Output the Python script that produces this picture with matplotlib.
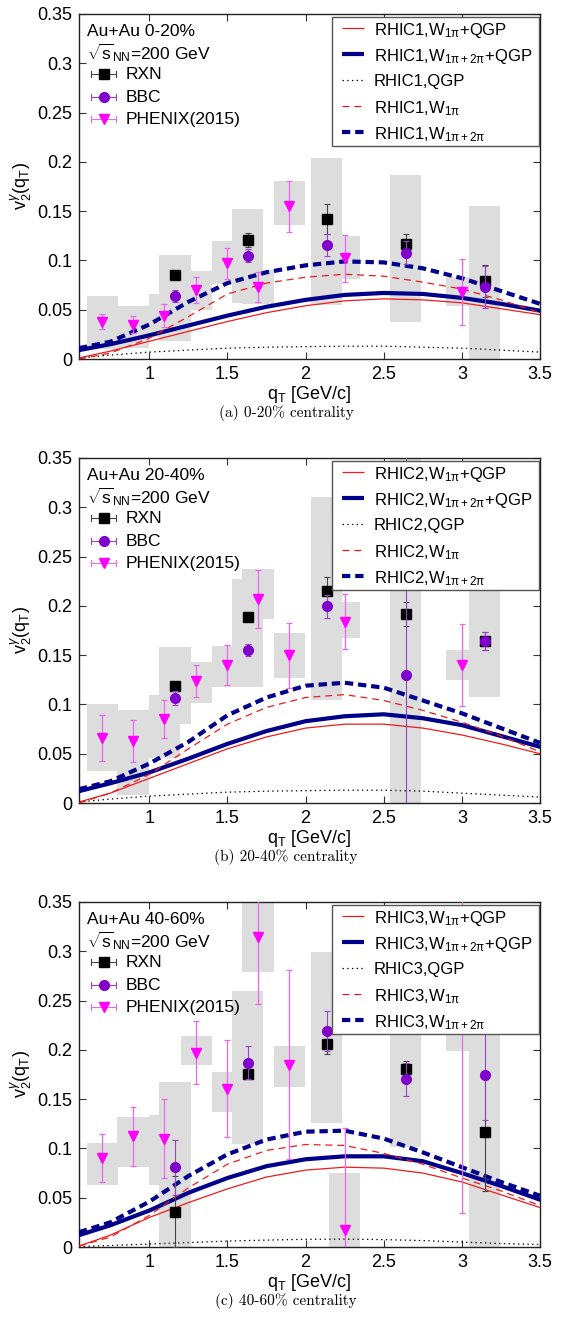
import numpy as np
import matplotlib
matplotlib.use('Agg')
import matplotlib.pyplot as plt
from matplotlib.patches import Rectangle

plt.rcParams['font.family'] = ['Liberation Sans', 'DejaVu Sans']
plt.rcParams['mathtext.fontset'] = 'custom'
plt.rcParams['mathtext.rm'] = 'Liberation Sans'
plt.rcParams['mathtext.it'] = 'Liberation Sans:italic'
plt.rcParams['mathtext.bf'] = 'Liberation Sans:bold'
plt.rcParams['lines.scale_dashes'] = False

# ---------------- data ----------------
q_curve = [0.55, 0.75, 1.0, 1.25, 1.5, 1.75, 2.0, 2.25, 2.5, 2.75, 3.0, 3.25, 3.5]

# panel (a) 0-20%
a_w1_qgp   = [0.001, 0.008, 0.018, 0.028, 0.038, 0.047, 0.054, 0.059, 0.061, 0.060, 0.057, 0.051, 0.045]
a_w12_qgp  = [0.009, 0.015, 0.024, 0.034, 0.044, 0.053, 0.060, 0.065, 0.067, 0.066, 0.062, 0.056, 0.049]
a_qgp      = [0.001, 0.004, 0.007, 0.009, 0.011, 0.012, 0.0125, 0.013, 0.013, 0.012, 0.011, 0.009, 0.007]
a_w1       = [0.000, 0.006, 0.021, 0.043, 0.066, 0.077, 0.083, 0.086, 0.084, 0.078, 0.071, 0.060, 0.047]
a_w12      = [0.011, 0.0175, 0.035, 0.058, 0.077, 0.088, 0.095, 0.099, 0.098, 0.092, 0.082, 0.069, 0.056]

# panel (b) 20-40%
b_w1_qgp   = [0.001, 0.010, 0.025, 0.040, 0.055, 0.067, 0.076, 0.080, 0.080, 0.076, 0.069, 0.060, 0.050]
b_w12_qgp  = [0.012, 0.020, 0.031, 0.045, 0.060, 0.073, 0.083, 0.088, 0.090, 0.086, 0.079, 0.068, 0.057]
b_qgp      = [0.001, 0.004, 0.007, 0.009, 0.011, 0.012, 0.0125, 0.013, 0.013, 0.012, 0.010, 0.008, 0.006]
b_w1       = [0.000, 0.010, 0.029, 0.055, 0.080, 0.097, 0.107, 0.110, 0.104, 0.094, 0.082, 0.068, 0.052]
b_w12      = [0.014, 0.022, 0.040, 0.062, 0.089, 0.107, 0.119, 0.122, 0.117, 0.104, 0.091, 0.076, 0.061]

# panel (c) 40-60%
c_w1_qgp   = [0.001, 0.012, 0.030, 0.045, 0.059, 0.071, 0.078, 0.081, 0.080, 0.075, 0.066, 0.053, 0.040]
c_w12_qgp  = [0.012, 0.022, 0.037, 0.055, 0.070, 0.082, 0.089, 0.092, 0.092, 0.087, 0.075, 0.062, 0.048]
c_qgp      = [0.0005, 0.0015, 0.003, 0.0045, 0.006, 0.007, 0.0078, 0.008, 0.0075, 0.0065, 0.005, 0.0035, 0.0025]
c_w1       = [0.001, 0.010, 0.032, 0.060, 0.084, 0.098, 0.104, 0.103, 0.095, 0.084, 0.070, 0.057, 0.042]
c_w12      = [0.015, 0.025, 0.046, 0.072, 0.094, 0.109, 0.117, 0.118, 0.110, 0.096, 0.081, 0.066, 0.052]

# RXN / BBC measurements
rxn_q = [1.165, 1.63, 2.135, 2.64, 3.145]
a_rxn_v = [0.0855, 0.121, 0.142, 0.117, 0.079]
a_rxn_e = [0.004, 0.007, 0.015, 0.010, 0.016]
a_bbc_v = [0.064, 0.105, 0.116, 0.108, 0.073]
a_bbc_e = [0.006, 0.007, 0.011, 0.012, 0.021]
a_box_lo = [0.018, 0.057, 0.055, 0.038, -0.01]
a_box_hi = [0.106, 0.152, 0.204, 0.187, 0.155]

b_rxn_v = [0.119, 0.189, 0.215, 0.192, 0.164]
b_rxn_e = [0.004, 0.004, 0.014, 0.012, 0.009]
b_bbc_v = [0.1065, 0.155, 0.1995, 0.1295, 0.1645]
b_bbc_e = [0.007, 0.006, 0.012, 0.30, 0.009]
b_box_lo = [0.080, 0.1175, 0.104, -0.01, 0.1075]
b_box_hi = [0.158, 0.227, 0.310, 0.36, 0.221]

c_rxn_v = [0.036, 0.176, 0.206, 0.181, 0.117]
c_rxn_e = [0.036, 0.005, 0.010, 0.008, 0.060]
c_bbc_v = [0.081, 0.187, 0.219, 0.170, 0.174]
c_bbc_e = [0.028, 0.017, 0.020, 0.017, 0.045]
c_box_lo = [-0.01, 0.104, 0.126, 0.101, -0.01]
c_box_hi = [0.167, 0.2595, 0.299, 0.25, 0.24]

# PHENIX(2015)
phx_q = [0.70, 0.895, 1.095, 1.30, 1.50, 1.695, 1.895, 2.25, 3.0]
a_phx_v = [0.038, 0.035, 0.044, 0.070, 0.097, 0.073, 0.155, 0.102, 0.068]
a_phx_e = [0.0078, 0.009, 0.012, 0.013, 0.016, 0.015, 0.026, 0.024, 0.033]
a_phx_lo = [0.010, 0.011, 0.022, 0.050, 0.076, 0.056, 0.136, 0.0815, 0.054]
a_phx_hi = [0.064, 0.054, 0.066, 0.089, 0.120, 0.090, 0.181, 0.125, 0.083]

b_phx_v = [0.066, 0.063, 0.085, 0.124, 0.140, 0.207, 0.150, 0.184, 0.140]
b_phx_e = [0.023, 0.021, 0.019, 0.016, 0.020, 0.029, 0.033, 0.028, 0.042]
b_phx_lo = [0.032, 0.008, 0.046, 0.101, 0.118, 0.187, 0.127, 0.1675, 0.125]
b_phx_hi = [0.100, 0.094, 0.110, 0.143, 0.159, 0.237, 0.172, 0.2035, 0.155]

c_phx_v = [0.090, 0.1125, 0.110, 0.197, 0.1605, 0.315, 0.185, 0.017, 0.24]
c_phx_e = [0.0245, 0.030, 0.040, 0.032, 0.049, 0.068, 0.096, 0.104, 0.205]
c_phx_lo = [0.0625, 0.081, 0.0625, 0.185, 0.137, 0.279, 0.162, -0.041, 0.199]
c_phx_hi = [0.1055, 0.132, 0.134, 0.214, 0.1775, 0.351, 0.204, 0.0755, 0.28]

x_ticks = [1, 1.5, 2, 2.5, 3, 3.5]
x_ticklabels = ['1', '1.5', '2', '2.5', '3', '3.5']
y_ticks = [0, 0.05, 0.1, 0.15, 0.2, 0.25, 0.3, 0.35]
y_ticklabels = ['0', '0.05', '0.1', '0.15', '0.2', '0.25', '0.3', '0.35']

panels = [
    dict(tag='RHIC1', cent='0-20%', cap='(a) 0-20% centrality',
         curves=[a_w1_qgp, a_w12_qgp, a_qgp, a_w1, a_w12],
         rxn=(a_rxn_v, a_rxn_e), bbc=(a_bbc_v, a_bbc_e), box=(a_box_lo, a_box_hi),
         phx=(a_phx_v, a_phx_e, a_phx_lo, a_phx_hi)),
    dict(tag='RHIC2', cent='20-40%', cap='(b) 20-40% centrality',
         curves=[b_w1_qgp, b_w12_qgp, b_qgp, b_w1, b_w12],
         rxn=(b_rxn_v, b_rxn_e), bbc=(b_bbc_v, b_bbc_e), box=(b_box_lo, b_box_hi),
         phx=(b_phx_v, b_phx_e, b_phx_lo, b_phx_hi)),
    dict(tag='RHIC3', cent='40-60%', cap='(c) 40-60% centrality',
         curves=[c_w1_qgp, c_w12_qgp, c_qgp, c_w1, c_w12],
         rxn=(c_rxn_v, c_rxn_e), bbc=(c_bbc_v, c_bbc_e), box=(c_box_lo, c_box_hi),
         phx=(c_phx_v, c_phx_e, c_phx_lo, c_phx_hi)),
]

# ---------------- styles ----------------
RED = '#ee1c1c'
NAVY = '#00008b'
PURPLE = '#8000cc'
MAGENTA = '#ff00ff'
MAG_ERR = '#ee66ee'
BOX = '#dddddd'
curve_styles = [
    dict(color=RED, lw=0.9, ls='-'),
    dict(color=NAVY, lw=3.0, ls='-'),
    dict(color='black', lw=0.9, ls=(0, (1, 2.4))),
    dict(color=RED, lw=0.9, ls=(0, (5, 3.5))),
    dict(color=NAVY, lw=3.0, ls=(0, (6, 3.5))),
]
BOXW = 0.2

fig = plt.figure(figsize=(5.72, 13.17), dpi=100)
W, H = 572.0, 1317.0
ax_left, ax_right = 79, 540
tops = [14, 458, 902]
AH = 345

for p, top in zip(panels, tops):
    ax = fig.add_axes([ax_left / W, (H - top - AH) / H, (ax_right - ax_left) / W, AH / H])
    ax.set_xlim(0.55, 3.5)
    ax.set_ylim(0, 0.35)

    # systematic boxes
    lo, hi = p['box']
    for q, l, h in zip(rxn_q, lo, hi):
        ax.add_patch(Rectangle((q - BOXW / 2, l), BOXW, h - l, fc=BOX, ec='none', zorder=1))
    pv, pe, plo, phi = p['phx']
    for q, l, h in zip(phx_q, plo, phi):
        ax.add_patch(Rectangle((q - BOXW / 2, l), BOXW, h - l, fc=BOX, ec='none', zorder=1))

    # model curves
    labels = [p['tag'] + r',W$_{\mathrm{1\pi}}$+QGP',
              p['tag'] + r',W$_{\mathrm{1\pi+2\pi}}$+QGP',
              p['tag'] + ',QGP',
              p['tag'] + r',W$_{\mathrm{1\pi}}$',
              p['tag'] + r',W$_{\mathrm{1\pi+2\pi}}$']
    for vals, st in zip(p['curves'], curve_styles):
        ax.plot(q_curve, vals, color=st['color'], lw=st['lw'], ls=st['ls'], zorder=3)

    # data
    rv, re = p['rxn']
    bv, be = p['bbc']
    ax.errorbar(rxn_q, rv, yerr=re, fmt='s', color='black', ms=6.5, ecolor='#444444',
                elinewidth=0.8, capsize=2.2, capthick=0.8, zorder=5)
    ax.errorbar(rxn_q, bv, yerr=be, fmt='o', color=PURPLE, ms=7, ecolor='#9a40d0',
                elinewidth=0.8, capsize=2.2, capthick=0.8, zorder=6)
    ax.errorbar(phx_q, pv, yerr=pe, fmt='v', color=MAGENTA, ms=6.5, ecolor=MAG_ERR,
                elinewidth=0.9, capsize=2.2, capthick=0.9, zorder=5)

    # axes styling
    ax.set_xticks(x_ticks)
    ax.set_xticklabels(x_ticklabels)
    ax.set_yticks(y_ticks)
    ax.set_yticklabels(y_ticklabels)
    ax.tick_params(direction='in', length=5, width=0.8, top=True, right=True,
                   labelsize=13, pad=5, colors='#333333', labelcolor='black')
    for s in ax.spines.values():
        s.set_linewidth(1.0)
        s.set_color('#222222')
    ax.set_xlabel(r'q$_{\mathrm{T}}$ [GeV/c]', fontsize=13, labelpad=0)
    ax.xaxis.set_label_coords(0.5, -0.072)
    ax.set_ylabel(r'v$_{\mathrm{2}}^{\gamma}$(q$_{\mathrm{T}}$)', fontsize=13)
    ax.yaxis.set_label_coords(-0.098, 0.5)

    # left legend (text + symbols)
    ax.text(0.017, 0.948, 'Au+Au ' + p['cent'], transform=ax.transAxes, fontsize=12.5,
            va='center', ha='left', zorder=12)
    ax.text(0.017, 0.887, r'$\sqrt{\mathrm{s}}_{\mathrm{NN}}$=200 GeV', transform=ax.transAxes,
            fontsize=12.5, va='center', ha='left', zorder=12)
    sym = [('RXN', 's', 'black', '#444444', 6.5, 0.826),
           ('BBC', 'o', PURPLE, '#9a40d0', 7, 0.759),
           ('PHENIX(2015)', 'v', MAGENTA, MAG_ERR, 6.5, 0.695)]
    for lab, m, mc, ec, ms, y in sym:
        ax.plot([0.027, 0.081], [y, y], transform=ax.transAxes, color=ec, lw=0.8, zorder=12)
        for xe in (0.027, 0.081):
            ax.plot([xe, xe], [y - 0.009, y + 0.009], transform=ax.transAxes, color=ec, lw=0.8, zorder=12)
        ax.plot([0.054], [y], transform=ax.transAxes, marker=m, color=mc, ms=ms, ls='none', zorder=13)
        ax.text(0.102, y, lab, transform=ax.transAxes, fontsize=12.5, va='center', ha='left', zorder=12)

    # right legend (boxed)
    ax.add_patch(Rectangle((0.549, 0.618), 0.448, 0.374, transform=ax.transAxes,
                           fc='white', ec='#555555', lw=1.0, zorder=20))
    ys = [0.958, 0.884, 0.808, 0.733, 0.658]
    for lab, st, y in zip(labels, curve_styles, ys):
        ax.plot([0.571, 0.618], [y, y], transform=ax.transAxes, color=st['color'],
                lw=st['lw'], ls=st['ls'], zorder=21, solid_capstyle='butt', dash_capstyle='butt')
        ax.text(0.639, y, lab, transform=ax.transAxes, fontsize=12, va='center_baseline',
                ha='left', zorder=21)

    # caption
    fig.text(0.5, (H - (top + AH + 54)) / H, p['cap'], ha='center', va='center',
             fontsize=11, family=['cmr10', 'DejaVu Serif'])

fig.savefig('out.png', dpi=100)
